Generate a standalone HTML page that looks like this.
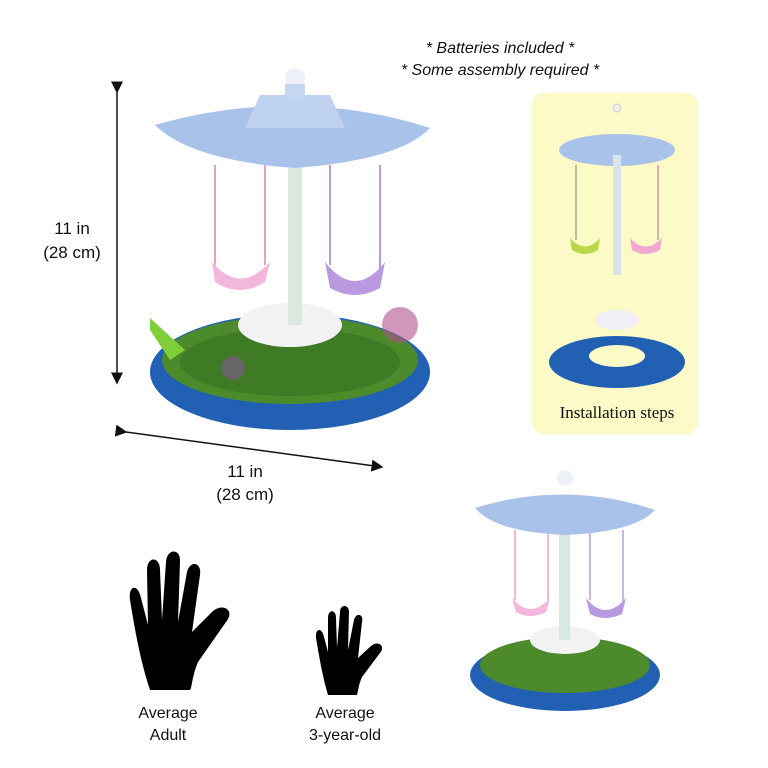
<!DOCTYPE html>
<html><head><meta charset="utf-8"><style>
html,body{margin:0;padding:0;background:#fff;}
svg{display:block}
text{font-family:"Liberation Sans",sans-serif;fill:#111}
</style></head><body>
<svg width="768" height="768" viewBox="0 0 768 768" xmlns="http://www.w3.org/2000/svg">
<defs>
<marker id="ah" markerWidth="8" markerHeight="8" refX="7" refY="4" orient="auto"><path d="M0,0 L8,4 L0,8 z" fill="#111"/></marker>
</defs>
<!-- top text -->
<text x="500" y="53" font-size="16" font-style="italic" text-anchor="middle">* Batteries included *</text>
<text x="500" y="75" font-size="16" font-style="italic" text-anchor="middle">* Some assembly required *</text>

<!-- vertical dimension -->
<line x1="117" y1="92" x2="117" y2="383" stroke="#111" stroke-width="1.5" marker-start="url(#ah)" marker-end="url(#ah)"/>
<text x="72" y="234" font-size="17" text-anchor="middle">11 in</text>
<text x="72" y="258" font-size="17" text-anchor="middle">(28 cm)</text>
<!-- diagonal dimension -->
<line x1="126" y1="432" x2="382" y2="467" stroke="#111" stroke-width="1.5" marker-start="url(#ah)" marker-end="url(#ah)"/>
<text x="245" y="477" font-size="17" text-anchor="middle">11 in</text>
<text x="245" y="500" font-size="17" text-anchor="middle">(28 cm)</text>

<!-- main carousel -->
<g>
<ellipse cx="290" cy="372" rx="140" ry="58" fill="#2260b4"/>
<ellipse cx="290" cy="360" rx="128" ry="44" fill="#4d8a2c"/>
<ellipse cx="290" cy="362" rx="110" ry="34" fill="#3f7a25"/>
<ellipse cx="290" cy="325" rx="52" ry="22" fill="#f2f2f5"/>
<rect x="288" y="140" width="14" height="185" fill="#d9e9e0"/>
<line x1="215" y1="165" x2="215" y2="265" stroke="#e8a0c8" stroke-width="2"/>
<line x1="265" y1="165" x2="265" y2="265" stroke="#e8a0c8" stroke-width="2"/>
<line x1="330" y1="165" x2="330" y2="265" stroke="#b89ad8" stroke-width="2"/>
<line x1="380" y1="165" x2="380" y2="270" stroke="#b89ad8" stroke-width="2"/>
<path d="M212,262 Q240,295 270,262 L265,282 Q240,298 215,282z" fill="#f3b6dc"/>
<path d="M325,262 Q355,300 385,262 L380,288 Q355,302 330,288z" fill="#b99ae0"/>
<path d="M155,125 Q295,85 430,128 Q400,160 295,168 Q190,160 155,125z" fill="#a9c2ea"/>
<path d="M260,95 L330,95 L345,128 L245,128z" fill="#bfd2f0"/>
<circle cx="295" cy="78" r="10" fill="#eef0f8"/>
<rect x="285" y="84" width="20" height="14" fill="#c5d6f2"/>
<circle cx="233" cy="368" r="12" fill="#666"/>
<path d="M150,318 L185,350 L170,360 L150,330z" fill="#7fcf3a"/>
<circle cx="400" cy="325" r="18" fill="#b05090" opacity="0.6"/>
</g>

<!-- yellow box -->
<rect x="532" y="93" width="166" height="341" rx="12" fill="#fcfac6"/>
<g>
<ellipse cx="617" cy="150" rx="58" ry="16" fill="#a9c2ea"/>
<rect x="613" y="155" width="8" height="120" fill="#d9e4ea"/>
<line x1="576" y1="165" x2="576" y2="240" stroke="#9a9" stroke-width="1.5"/>
<line x1="658" y1="165" x2="658" y2="240" stroke="#c9a" stroke-width="1.5"/>
<path d="M570,238 Q585,255 600,238 L598,250 Q585,258 572,250z" fill="#b8d84a"/>
<path d="M630,238 Q645,255 662,238 L660,250 Q645,258 632,250z" fill="#f2a8cc"/>
<ellipse cx="617" cy="320" rx="22" ry="10" fill="#f0f0f4"/>
<ellipse cx="617" cy="362" rx="68" ry="26" fill="#2260b4"/>
<ellipse cx="617" cy="356" rx="28" ry="11" fill="#fcfac6"/>
<circle cx="617" cy="108" r="4" fill="#eee" stroke="#ccc"/>
</g>
<text x="617" y="418" font-size="17" text-anchor="middle" style="font-family:'Liberation Serif',serif">Installation steps</text>

<!-- small carousel -->
<g>
<ellipse cx="565" cy="675" rx="95" ry="36" fill="#2260b4"/>
<ellipse cx="565" cy="665" rx="85" ry="28" fill="#4d8a2c"/>
<ellipse cx="565" cy="640" rx="35" ry="14" fill="#f2f2f5"/>
<rect x="559" y="515" width="11" height="125" fill="#d9e9e0"/>
<line x1="515" y1="530" x2="515" y2="600" stroke="#e8a0c8" stroke-width="1.5"/>
<line x1="548" y1="530" x2="548" y2="600" stroke="#e8a0c8" stroke-width="1.5"/>
<line x1="590" y1="530" x2="590" y2="600" stroke="#b89ad8" stroke-width="1.5"/>
<line x1="623" y1="530" x2="623" y2="605" stroke="#b89ad8" stroke-width="1.5"/>
<path d="M512,598 Q530,620 550,598 L546,612 Q530,620 516,612z" fill="#f3b6dc"/>
<path d="M586,598 Q605,622 626,598 L622,614 Q605,622 590,614z" fill="#b99ae0"/>
<path d="M475,508 Q565,480 655,510 Q635,532 565,535 Q495,532 475,508z" fill="#a9c2ea"/>
<circle cx="565" cy="478" r="8" fill="#eef0f8"/>
</g>

<!-- hands -->
<path d="M150,690 C140,660 135,630 130,600 C128,585 138,583 141,598 L148,625 L147,570 C147,556 160,556 160,570 L162,620 L166,562 C167,548 181,548 180,562 L178,622 L187,572 C190,560 202,562 200,575 L192,632 L212,612 C222,602 236,610 226,622 L198,662 C192,676 192,688 190,690 Z" fill="#000"/>
<path d="M328,695 C322,675 319,655 316,638 C315,628 322,627 324,637 L328,652 L328,618 C328,609 336,609 336,618 L337,648 L340,612 C340,604 349,604 349,612 L348,650 L354,620 C356,612 364,614 362,622 L358,658 L371,646 C378,640 386,646 380,653 L362,677 C358,686 358,693 357,695 Z" fill="#000"/>
<text x="168" y="718" font-size="16" text-anchor="middle">Average</text>
<text x="168" y="740" font-size="16" text-anchor="middle">Adult</text>
<text x="345" y="718" font-size="16" text-anchor="middle">Average</text>
<text x="345" y="740" font-size="16" text-anchor="middle">3-year-old</text>
</svg>
</body></html>
